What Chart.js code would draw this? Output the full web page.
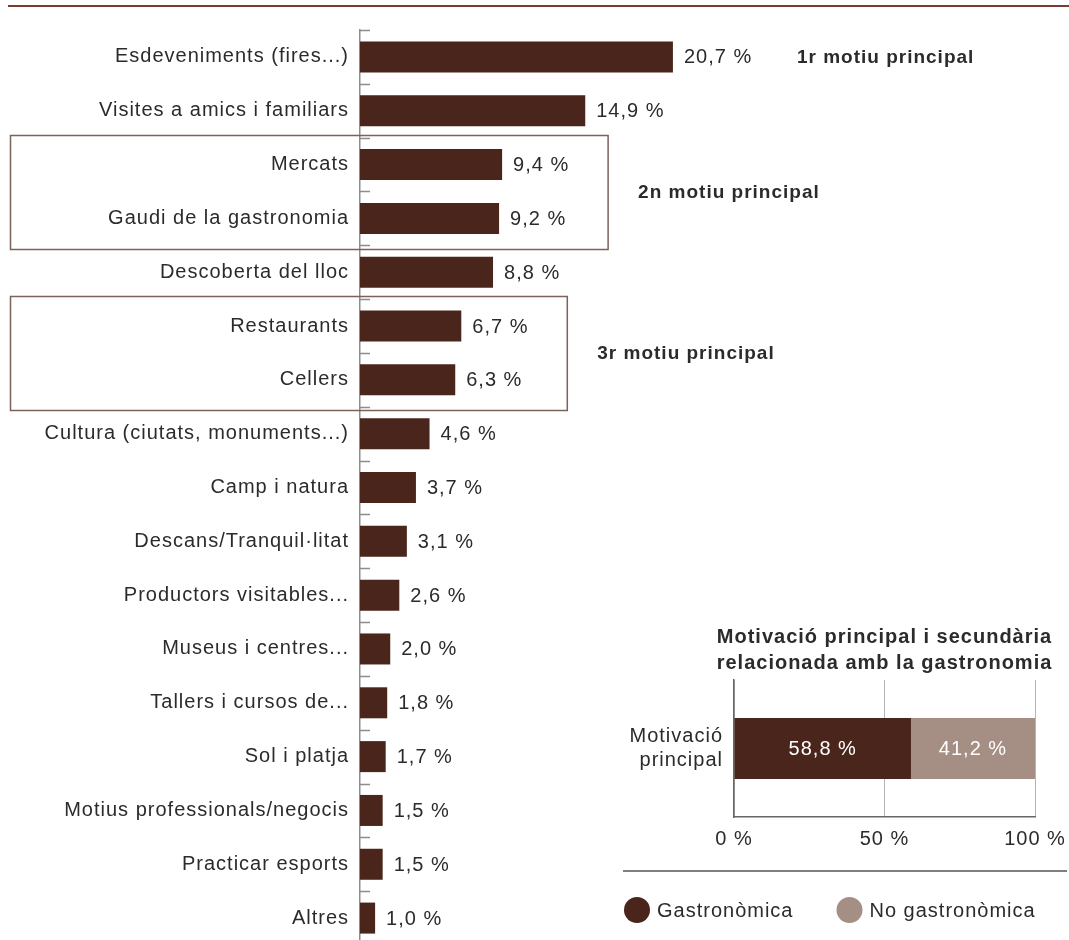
<!DOCTYPE html>
<html>
<head>
<meta charset="utf-8">
<script src="https://cdn.jsdelivr.net/npm/chart.js@4.4.1/dist/chart.umd.min.js"></script>
<style>
  body { margin: 0; background: #fff; }
  #wrap { position: relative; width: 1069px; height: 940px; overflow: hidden; }
  #rule { position: absolute; left: 8px; top: 5px; width: 1061px; height: 1.5px; background: #7a3b33; }
  #mainChart { position: absolute; left: 0; top: 0; }
  #insetChart { position: absolute; left: 600px; top: 620px; }
</style>
</head>
<body>
<div id="wrap">
  <div id="rule"></div>
  <canvas id="mainChart" width="1069" height="945"></canvas>
  <canvas id="insetChart" width="469" height="320"></canvas>
</div>
<script>
const categories = [
  'Esdeveniments (fires...)',
  'Visites a amics i familiars',
  'Mercats',
  'Gaudi de la gastronomia',
  'Descoberta del lloc',
  'Restaurants',
  'Cellers',
  'Cultura (ciutats, monuments...)',
  'Camp i natura',
  'Descans/Tranquil·litat',
  'Productors visitables...',
  'Museus i centres...',
  'Tallers i cursos de...',
  'Sol i platja',
  'Motius professionals/negocis',
  'Practicar esports',
  'Altres'
];
const values = [20.7, 14.9, 9.4, 9.2, 8.8, 6.7, 6.3, 4.6, 3.7, 3.1, 2.6, 2.0, 1.8, 1.7, 1.5, 1.5, 1.0];

// groups marked on the main chart
const groupLabels = ['1r motiu principal', '2n motiu principal', '3r motiu principal'];
const groupRows = [['Esdeveniments (fires...)'], ['Mercats', 'Gaudi de la gastronomia'], ['Restaurants', 'Cellers']];
const groupBoxed = [false, true, true];

// inset chart
const insetTitle = ['Motivació principal i secundària', 'relacionada amb la gastronomia'];
const insetCategories = [['Motivació', 'principal']];
const insetSeries = ['Gastronòmica', 'No gastronòmica'];
const insetGastro = [58.8];
const insetNoGastro = [41.2];
const insetTicks = [0, 50, 100];

const DARK = '#4a251b';
const LIGHT = '#a58e83';
const TEXT = '#2b2b2b';
const AXIS = '#8c8c8c';
const FONT = '"Liberation Sans", Arial, Helvetica, sans-serif';

const fmt = v => v.toFixed(1).replace('.', ',') + ' %';

// scales must not add their own label padding to the layout
const noPad = s => { s.paddingTop = 0; s.paddingBottom = 0; s.paddingLeft = 0; s.paddingRight = 0; };

const spacing = {
  id: 'spacing',
  beforeDraw(chart) { chart.ctx.letterSpacing = '1px'; }
};

const mainExtras = {
  id: 'mainExtras',
  afterDatasetsDraw(chart) {
    const ctx = chart.ctx;
    const x = chart.scales.x, y = chart.scales.y;
    const step = y.height / categories.length;
    ctx.save();
    ctx.letterSpacing = '1px';

    // inside tick marks on the category axis
    ctx.strokeStyle = AXIS;
    ctx.lineWidth = 1.5;
    for (let i = 0; i <= categories.length; i++) {
      const py = Math.round(y.top + i * step) + 0.5;
      ctx.beginPath();
      ctx.moveTo(y.right, py);
      ctx.lineTo(y.right + 10, py);
      ctx.stroke();
    }

    // value labels
    ctx.fillStyle = TEXT;
    ctx.font = '20px ' + FONT;
    ctx.textAlign = 'left';
    ctx.textBaseline = 'middle';
    chart.getDatasetMeta(0).data.forEach((bar, i) => {
      ctx.fillText(fmt(values[i]), bar.x + 11, bar.y + 1);
    });

    // group boxes and labels
    groupLabels.forEach((label, g) => {
      const idx = groupRows[g].map(r => categories.indexOf(r));
      const maxV = Math.max(...idx.map(i => values[i]));
      const first = Math.min(...idx), last = Math.max(...idx);
      const top = y.getPixelForValue(first) - step / 2 - 3;
      const bottom = y.getPixelForValue(last) + step / 2 + 3;
      const midY = (y.getPixelForValue(first) + y.getPixelForValue(last)) / 2;
      let tx;
      if (groupBoxed[g]) {
        const right = x.getPixelForValue(maxV) + 106;
        ctx.strokeStyle = '#7d6259';
        ctx.lineWidth = 1.5;
        ctx.strokeRect(10.5, Math.round(top) + 0.5, right - 10.5, Math.round(bottom - top));
        tx = right + 30;
      } else {
        tx = x.getPixelForValue(maxV) + 124;
      }
      ctx.fillStyle = TEXT;
      ctx.font = 'bold 19px ' + FONT;
      ctx.fillText(label, tx, midY + 1);
    });
    ctx.restore();
  }
};

new Chart(document.getElementById('mainChart'), {
  type: 'bar',
  data: {
    labels: categories,
    datasets: [{
      data: values,
      backgroundColor: DARK,
      barPercentage: 0.576,
      categoryPercentage: 1
    }]
  },
  options: {
    indexAxis: 'y',
    responsive: false,
    animation: false,
    devicePixelRatio: 1,
    layout: { padding: { top: 30, left: 0, right: 0, bottom: 0 } },
    plugins: { legend: { display: false }, tooltip: { enabled: false } },
    scales: {
      x: { display: false, min: 0, max: 46.9 },
      y: {
        afterFit(s) { s.width = 360; noPad(s); },
        grid: { display: true, drawOnChartArea: false, drawTicks: false },
        border: { display: true, color: AXIS, width: 1.5 },
        ticks: { color: TEXT, padding: 11, font: { family: FONT, size: 20 } }
      }
    }
  },
  plugins: [spacing, mainExtras]
});

const insetExtras = {
  id: 'insetExtras',
  afterDraw(chart) {
    const ctx = chart.ctx;
    const a = chart.chartArea;
    ctx.save();
    ctx.letterSpacing = '1px';

    // title
    ctx.fillStyle = TEXT;
    ctx.font = 'bold 20px ' + FONT;
    ctx.textAlign = 'center';
    ctx.textBaseline = 'middle';
    const cx = (a.left + a.right) / 2;
    ctx.fillText(insetTitle[0], cx, a.top - 43);
    ctx.fillText(insetTitle[1], cx, a.top - 17);

    // labels inside the segments
    ctx.fillStyle = '#fff';
    ctx.font = '20px ' + FONT;
    chart.data.datasets.forEach((ds, d) => {
      chart.getDatasetMeta(d).data.forEach((bar, i) => {
        ctx.fillText(fmt(ds.data[i]), (bar.x + bar.base) / 2, bar.y + 1);
      });
    });

    // separator and legend
    const sepY = a.bottom + 54;
    ctx.strokeStyle = '#555';
    ctx.lineWidth = 1.5;
    ctx.beginPath();
    ctx.moveTo(23, sepY);
    ctx.lineTo(chart.width - 2, sepY);
    ctx.stroke();

    const ly = sepY + 39;
    let lx = 37;
    ctx.textAlign = 'left';
    chart.data.datasets.forEach(ds => {
      ctx.fillStyle = ds.backgroundColor;
      ctx.beginPath();
      ctx.arc(lx, ly, 13, 0, Math.PI * 2);
      ctx.fill();
      ctx.fillStyle = TEXT;
      ctx.fillText(ds.label, lx + 20, ly + 1);
      lx += 20 + ctx.measureText(ds.label).width + 56;
    });
    ctx.restore();
  }
};

new Chart(document.getElementById('insetChart'), {
  type: 'bar',
  data: {
    labels: insetCategories,
    datasets: [
      { label: insetSeries[0], data: insetGastro, backgroundColor: DARK, barPercentage: 0.445, categoryPercentage: 1 },
      { label: insetSeries[1], data: insetNoGastro, backgroundColor: LIGHT, barPercentage: 0.445, categoryPercentage: 1 }
    ]
  },
  options: {
    indexAxis: 'y',
    responsive: false,
    animation: false,
    devicePixelRatio: 1,
    layout: { padding: { top: 60, right: 34, left: 0, bottom: 0 } },
    plugins: { legend: { display: false }, tooltip: { enabled: false } },
    scales: {
      x: {
        stacked: true,
        min: insetTicks[0],
        max: insetTicks[insetTicks.length - 1],
        afterFit(s) { s.height = 123; noPad(s); },
        afterBuildTicks(s) { s.ticks = insetTicks.map(v => ({ value: v })); },
        grid: { color: '#b5b5b5', lineWidth: 1, drawTicks: false },
        border: { display: true, color: '#666', width: 1.5 },
        ticks: { color: TEXT, padding: 10, font: { family: FONT, size: 20 }, callback: v => v + ' %' }
      },
      y: {
        stacked: true,
        afterFit(s) { s.width = 134; noPad(s); },
        grid: { display: true, drawOnChartArea: false, drawTicks: false },
        border: { display: true, color: '#666', width: 1.5 },
        ticks: { color: TEXT, padding: 11, font: { family: FONT, size: 20 } }
      }
    }
  },
  plugins: [spacing, insetExtras]
});
</script>
</body>
</html>
